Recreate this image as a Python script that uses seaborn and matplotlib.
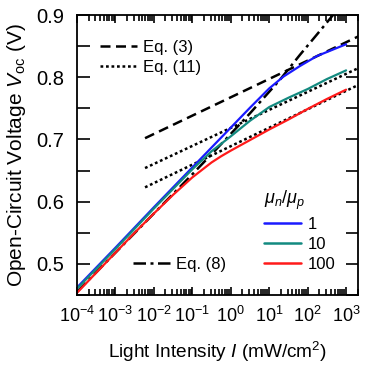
import numpy as np
import pandas as pd
import matplotlib
matplotlib.use("Agg")
import matplotlib.pyplot as plt
from matplotlib.lines import Line2D
from matplotlib.ticker import LogLocator, MultipleLocator, NullFormatter
import seaborn as sns

# log10 of light intensity (mW/cm2) and Voc (V)
logI_mu1 = [-4, -3, -2, -1, 0, 0.5, 1.0, 1.37, 1.8, 2.24, 2.6, 3.0]
voc_mu1 = [0.462, 0.526, 0.591, 0.655, 0.719, 0.751, 0.782, 0.801, 0.818, 0.834, 0.843, 0.853]

logI_mu10 = [-4, -3, -2, -1, -0.5, 0, 0.5, 1.0, 1.5, 2.0, 2.5, 3.0]
voc_mu10 = [0.460, 0.524, 0.589, 0.652, 0.681, 0.705, 0.730, 0.752, 0.767, 0.781, 0.797, 0.811]

logI_mu100 = [-4, -3, -2.5, -2, -1.5, -1, -0.5, -0.25, 0, 0.5, 1.0, 1.5, 2.0, 2.5, 3.0]
voc_mu100 = [0.4535, 0.518, 0.550, 0.581, 0.611, 0.639, 0.663, 0.673, 0.682, 0.699, 0.716, 0.732, 0.749, 0.765, 0.780]

logI_eq8 = [-4, -3, -2, -1, -0.15, 0.5, 1.28, 1.8, 2.3, 2.7]
voc_eq8 = [0.455, 0.518, 0.581, 0.644, 0.699, 0.742, 0.796, 0.836, 0.873, 0.903]

logI_eq3 = [-2.23, 3.4]
voc_eq3 = [0.702, 0.868]

logI_eq11_a = [-2.23, 3.4]
voc_eq11_a = [0.654, 0.817]
logI_eq11_b = [-2.23, 3.4]
voc_eq11_b = [0.623, 0.790]

mu_labels = ["1", "10", "100"]
mu_colors = ["#1a1aff", "#138a80", "#ff1a1a"]

sns.set_style("ticks")
plt.rcParams["font.family"] = ["Liberation Sans", "DejaVu Sans"]
plt.rcParams["mathtext.fontset"] = "custom"
plt.rcParams["mathtext.rm"] = "Liberation Sans"
plt.rcParams["mathtext.it"] = "Liberation Sans:italic"
for key in ["text.color", "axes.labelcolor", "xtick.color", "ytick.color"]:
    plt.rcParams[key] = "black"

fig = plt.figure(figsize=(3.73, 3.67), dpi=100)
ax = fig.add_axes([0.2064, 0.1962, 0.7534, 0.7629])


def frame(logi, v):
    return pd.DataFrame({"I": np.power(10.0, logi), "V": v})


lw_k = 1.8
sns.lineplot(data=frame(logI_eq3, voc_eq3), x="I", y="V", ax=ax, color="k", lw=lw_k)
ax.lines[-1].set_dashes([4, 2.2])
for lx, ly in [(logI_eq11_a, voc_eq11_a), (logI_eq11_b, voc_eq11_b)]:
    sns.lineplot(data=frame(lx, ly), x="I", y="V", ax=ax, color="k", lw=lw_k)
    ax.lines[-1].set_dashes([1.1, 1.1])
sns.lineplot(data=frame(logI_eq8, voc_eq8), x="I", y="V", ax=ax, color="k", lw=lw_k)
ax.lines[-1].set_dashes([5, 1.8, 1.2, 1.8])

for lx, ly, c in [(logI_mu1, voc_mu1, mu_colors[0]),
                  (logI_mu10, voc_mu10, mu_colors[1]),
                  (logI_mu100, voc_mu100, mu_colors[2])]:
    sns.lineplot(data=frame(lx, ly), x="I", y="V", ax=ax, color=c, lw=1.6)

ax.set_xscale("log")
ax.set_xlim(1e-4, 10 ** 3.31)
ax.set_ylim(0.45, 0.9)
ax.xaxis.set_major_locator(LogLocator(base=10, numticks=20))
ax.xaxis.set_minor_locator(LogLocator(base=10, subs=np.arange(2, 10), numticks=20))
ax.xaxis.set_minor_formatter(NullFormatter())
ax.yaxis.set_major_locator(MultipleLocator(0.1))
ax.yaxis.set_minor_locator(MultipleLocator(0.05))
ax.tick_params(axis="both", which="both", direction="in", top=True, right=True, width=1.2, color="k")
ax.tick_params(axis="y", which="both", length=9)
ax.tick_params(axis="y", which="major", labelsize=14.5, pad=9)
ax.tick_params(axis="x", which="major", length=6, labelsize=13, pad=8)
ax.tick_params(axis="x", which="minor", length=4)
for s in ax.spines.values():
    s.set_linewidth(1.3)
    s.set_color("k")

ax.set_xlabel("Light Intensity $\\mathit{I}$ (mW/cm$^2$)", fontsize=13.7, labelpad=10)
ax.set_ylabel("Open-Circuit Voltage $\\mathit{V}_{\\rm oc}$ (V)", fontsize=15, labelpad=6)

h3 = Line2D([], [], color="k", lw=lw_k, dashes=[4, 2.2])
h11 = Line2D([], [], color="k", lw=lw_k, dashes=[1.1, 1.1])
h8 = Line2D([], [], color="k", lw=lw_k, dashes=[5, 1.8, 1.2, 1.8])
leg_kw = dict(frameon=False, fontsize=12, handlelength=2.2, handletextpad=0.4, borderpad=0)
leg1 = ax.legend([h3, h11], ["Eq. (3)", "Eq. (11)"], loc="upper left",
                 bbox_to_anchor=(0.052, 0.94), labelspacing=0.3, **leg_kw)
ax.add_artist(leg1)
leg2 = ax.legend([h8], ["Eq. (8)"], loc="upper left", bbox_to_anchor=(0.17, 0.166), **leg_kw)
ax.add_artist(leg2)
hm = [Line2D([], [], color=c, lw=1.8) for c in mu_colors]
leg3 = ax.legend(hm, mu_labels, loc="upper left", bbox_to_anchor=(0.637, 0.41),
                 labelspacing=0.3, title="$\\mu_n/\\mu_p$", title_fontsize=13, **leg_kw)
leg3._legend_box.align = "left"

fig.savefig("out.png", dpi=100)
